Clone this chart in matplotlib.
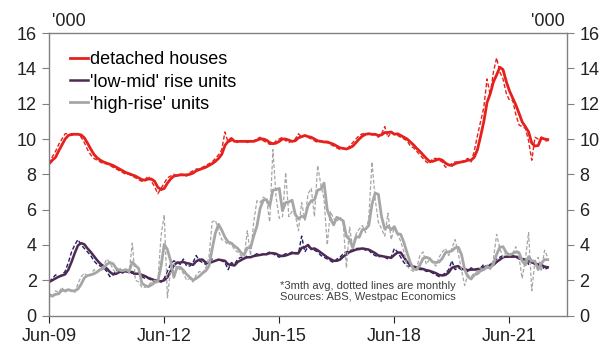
import numpy as np
import pandas as pd
import matplotlib
matplotlib.use("Agg")
import matplotlib.pyplot as plt

plt.rcParams['font.family'] = ['Liberation Sans', 'DejaVu Sans']

# monthly dwelling approvals ('000), Jun-09 .. Jun-22
detached = [8.6, 9.0, 9.3, 9.7, 10.0, 10.3,
            10.3, 10.2, 10.3, 10.3, 10.1,
            9.8, 9.4, 9.1, 8.9, 8.8, 8.7, 8.6, 8.6, 8.5, 8.4,
            8.3, 8.2, 8.1, 8.0, 8.0, 7.9, 7.8, 7.7, 7.6, 7.7,
            7.9, 7.6, 7.3, 6.9, 7.2, 7.5,
            7.8, 7.9, 8.0, 7.9, 8.0, 8.0, 7.9, 8.1, 8.2,
            8.3, 8.3, 8.4, 8.5, 8.6, 8.7, 8.9, 9.1, 9.4, 10.4, 9.8, 9.9,
            9.9, 9.8, 9.9, 9.9, 9.8, 9.9, 9.9, 10.0, 10.1, 9.9, 9.8, 9.7, 9.7,
            9.9, 10.0, 10.1, 9.9, 9.8, 9.9, 10.0, 10.3, 10.1, 10.2,
            10.1, 10.0, 9.9, 9.8, 9.9, 9.8, 9.8, 9.7, 9.6, 9.5, 9.4, 9.5, 9.4, 9.6, 9.8,
            10.0, 10.2, 10.3, 10.3, 10.3, 10.2, 10.3, 10.1, 10.3,
            10.7, 10.1, 10.4,
            10.3, 10.2, 10.1, 10.0, 9.9, 9.6, 9.5, 9.3, 9.1, 8.9, 8.7, 8.6, 8.9,
            8.9, 8.8, 8.7, 8.4, 8.5, 8.6, 8.7, 8.7, 8.7, 8.8, 8.9, 8.7, 9.3,
            10.2, 11.0, 11.8, 13.4, 12.5, 13.8, 14.6, 13.8,
            13.4, 12.6, 12.2, 12.2, 11.4, 10.8, 10.7, 10.6, 9.9, 8.8, 10.1, 10.0, 10.1, 9.9, 9.9]

low_mid = [1.9, 2.1, 2.3, 2.2, 2.3, 2.5, 3.0, 3.6, 4.0, 4.3,
           4.0, 3.8, 3.6, 3.4, 3.1, 2.9, 2.8, 2.7, 2.5, 2.2, 2.3,
           2.6, 2.5, 2.4, 2.6, 2.4, 2.4, 2.3, 2.4, 2.2, 2.1,
           2.1, 2.0, 1.9, 2.0, 1.9, 2.1, 2.5, 2.9,
           3.1, 3.0, 2.9, 3.2, 2.8, 2.8, 3.0, 3.4, 3.1, 3.0, 2.9, 3.0,
           3.2, 3.1, 3.2, 3.1, 3.0, 2.6, 3.0, 2.9, 3.2, 3.3, 3.2, 3.4,
           3.3, 3.4, 3.5, 3.4, 3.5, 3.5, 3.6, 3.5, 3.4, 3.3, 3.4, 3.5, 3.5, 3.6, 3.5, 3.5,
           4.5, 3.6, 3.9, 3.8, 3.7, 3.6, 3.4, 3.3, 3.2, 3.1, 3.0, 3.2,
           3.3, 3.5, 3.6, 3.7, 3.7, 3.8, 3.8, 3.8, 3.7, 3.7, 3.5, 3.4, 3.3,
           3.4, 3.3, 3.2, 3.3, 3.8, 3.6, 3.3, 3.0, 2.8,
           2.8, 2.7, 2.7, 2.6, 2.6, 2.5, 2.5, 2.4, 2.3, 2.2, 2.3, 2.4, 2.6,
           3.1, 2.6, 2.7, 2.6, 2.6, 2.5, 2.7, 2.6, 2.6, 2.7, 2.9, 2.7, 2.9, 3.0, 3.2,
           3.3, 3.4, 3.3, 3.3, 3.4, 3.3, 3.2, 3.1, 3.2, 2.9, 3.0, 2.9, 2.8, 2.9, 2.6, 2.7]

high_rise = [1.2, 1.0, 1.4, 1.3, 1.6, 1.3, 1.5, 1.4, 1.3, 1.8, 2.2,
             2.4, 2.2, 2.3, 2.6, 2.5, 2.7, 2.8, 3.2, 3.0, 2.6,
             2.4, 2.7, 2.5, 2.6, 2.4, 4.1, 2.0, 1.9, 1.6, 1.6,
             1.7, 1.9, 2.0, 1.9, 4.5, 5.7, 1.0, 2.6, 2.9, 2.7, 2.6,
             2.4, 2.0, 2.1, 1.9, 2.3, 2.5, 2.4, 2.7, 3.3, 5.3, 5.4, 4.8,
             4.3, 4.2, 4.0, 4.1, 3.7, 3.6, 3.4, 3.3, 4.8, 3.4, 5.3,
             6.5, 6.4, 6.7, 6.6, 5.3, 9.4, 6.7, 5.5, 5.6, 8.1, 5.6, 5.9, 5.7, 4.8, 6.4, 5.4,
             6.9, 7.2, 5.6, 8.5, 7.4, 6.6, 4.0, 5.9, 5.5, 5.3, 5.6, 5.2,
             2.7, 5.0, 3.8, 4.6, 4.9, 5.1, 4.7, 5.5,
             8.7, 6.6, 5.3, 4.9, 4.5, 5.8, 4.3, 5.0, 4.6, 4.2, 3.6, 2.8,
             2.6, 2.5, 2.7, 3.4, 3.6, 2.9, 3.2, 3.0, 2.8, 3.3,
             3.6, 3.8, 3.4, 3.8, 4.3, 3.5, 2.6, 1.7, 2.3,
             2.2, 2.4, 2.5, 2.7, 2.6, 2.9, 2.6, 3.2, 4.6,
             3.8, 3.3, 3.6, 3.4, 3.5, 3.9, 3.3, 2.1, 3.2, 4.7, 1.4, 3.1, 3.3, 2.5, 3.7, 3.3]

tick_labels = ['Jun-09', 'Jun-12', 'Jun-15', 'Jun-18', 'Jun-21']

n = len(detached)
if not (len(low_mid) == n and len(high_rise) == n):
    raise ValueError(f"lengths {len(detached)} {len(low_mid)} {len(high_rise)}")

months = np.arange(n)
df = pd.DataFrame({'detached': detached, 'low_mid': low_mid, 'high_rise': high_rise})
avg = df.rolling(3, min_periods=1).mean()  # 3mth avg

red = '#E6201C'
purple = '#4E2A52'
navy = '#1F1F66'
grey = '#A6A6A6'
frame = '#808080'

fig = plt.figure(figsize=(6.07, 3.45), dpi=100)
ax = fig.add_axes([0.081, 0.0855, 0.853, 0.8185])

dash = (3, 1.6)
ax.plot(months, df['low_mid'], color=navy, lw=1.0, ls='--', dashes=dash)
ax.plot(months, avg['low_mid'], color=purple, lw=1.8, label="'low-mid' rise units")
ax.plot(months, df['high_rise'], color=grey, lw=0.9, ls='--', dashes=dash)
ax.plot(months, avg['high_rise'], color=grey, lw=2.0, label="'high-rise' units")
ax.plot(months, df['detached'], color=red, lw=1.0, ls='--', dashes=dash)
ax.plot(months, avg['detached'], color=red, lw=2.0, label='detached houses')

ax.set_xlim(0, 162)
ax.set_ylim(0, 16)
ax.set_xticks(np.arange(0, 145, 36))
ax.set_xticklabels(tick_labels)
ax.set_yticks(np.arange(0, 17, 2))

for s in ax.spines.values():
    s.set_color(frame)
    s.set_linewidth(1.0)
ax.tick_params(axis='both', direction='out', length=5, color=frame, labelsize=13, colors='#222222')
ax.tick_params(axis='y', left=True, right=True, labelleft=True, labelright=True, pad=4)
ax.tick_params(axis='x', pad=4)
ax.tick_params(axis='x', colors='#222222')

ax.text(0.005, 1.01, "'000", transform=ax.transAxes, fontsize=13, color='#222222', ha='left', va='bottom')
ax.text(0.995, 1.01, "'000", transform=ax.transAxes, fontsize=13, color='#222222', ha='right', va='bottom')

h, l = ax.get_legend_handles_labels()
order = [2, 0, 1]
ax.legend([h[i] for i in order], [l[i] for i in order], loc='upper left', bbox_to_anchor=(0.04, 0.935),
          frameon=False, fontsize=13, handlelength=1.0, handletextpad=0.1, labelspacing=0.28,
          borderaxespad=0, borderpad=0)

ax.text(0.445, 0.085, "*3mth avg, dotted lines are monthly\nSources: ABS, Westpac Economics",
        transform=ax.transAxes, fontsize=8, color='#404040', ha='left', va='center', linespacing=1.2)

plt.savefig('out.png', dpi=100)
